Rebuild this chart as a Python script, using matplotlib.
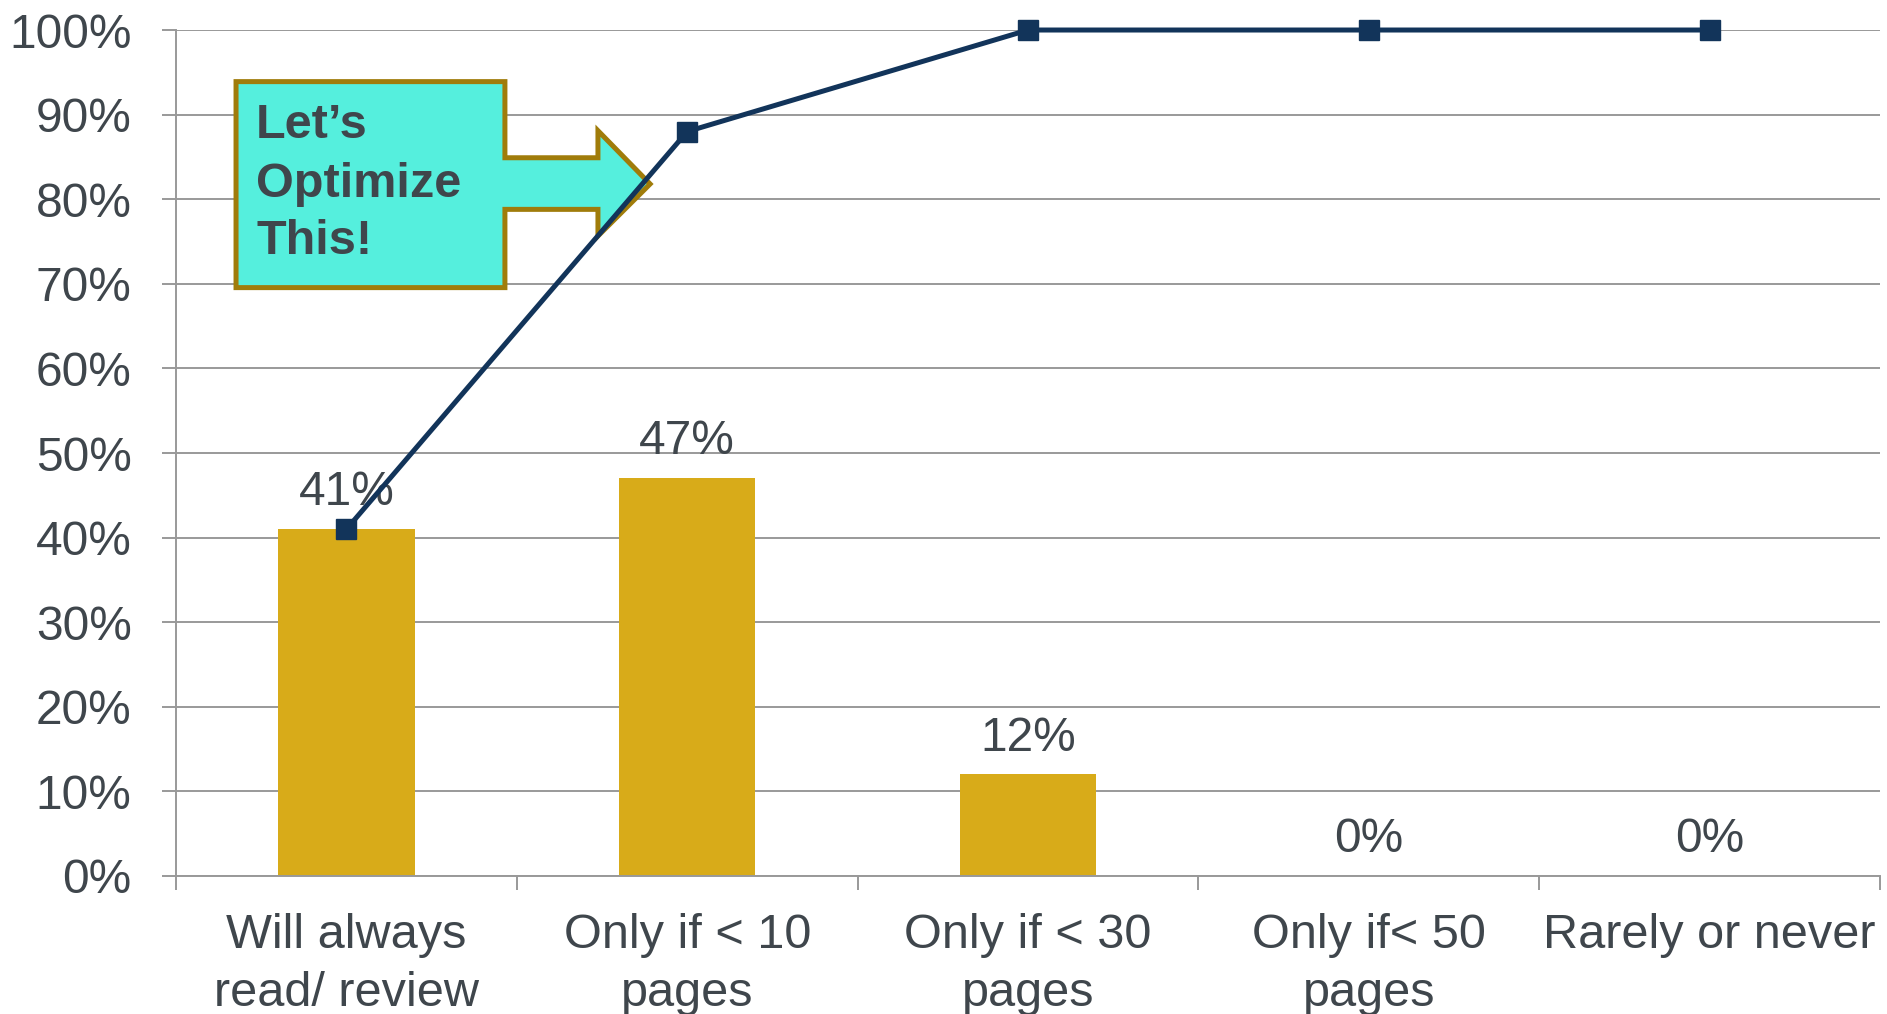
import matplotlib
matplotlib.use("Agg")
import matplotlib.pyplot as plt
from matplotlib.patches import Polygon
from matplotlib.ticker import FixedLocator, PercentFormatter

# Survey responses: share of respondents per reading threshold
categories = ["Will always\nread/ review", "Only if < 10\npages", "Only if < 30\npages",
              "Only if< 50\npages", "Rarely or never"]
share = [41, 47, 12, 0, 0]
cumulative = [41, 88, 100, 100, 100]
y_ticks = [0, 10, 20, 30, 40, 50, 60, 70, 80, 90, 100]
callout_lines = ["Let\u2019s", "Optimize", "This!"]

TEXT = "#3F464C"
GRID = "#999999"
BAR = "#D8AB19"
LINE = "#12345A"
CALLOUT_FILL = "#55EFDD"
CALLOUT_EDGE = "#A07C0A"

plt.rcParams["font.family"] = ["Liberation Sans", "DejaVu Sans"]

fig = plt.figure(figsize=(18.87, 10.14), dpi=100)
ax = fig.add_axes([0.0933, 0.1361, 0.9030, 0.8343])

x = list(range(len(categories)))
ax.bar(x, share, width=0.4, color=BAR, zorder=2)
ax.plot(x, cumulative, color=LINE, lw=3.6, marker="s", markersize=14,
        markerfacecolor=LINE, markeredgecolor=LINE, zorder=5, clip_on=False)

for xi, v in zip(x, share):
    ax.annotate(f"{v}%", (xi, v), xytext=(0, 10), textcoords="offset points",
                ha="center", va="bottom", fontsize=34.5, color=TEXT, zorder=4)

ax.set_xlim(-0.5, len(categories) - 0.5)
ax.set_ylim(0, 100)

# y axis: percent gridlines
ax.yaxis.set_major_locator(FixedLocator(y_ticks))
ax.yaxis.set_major_formatter(PercentFormatter(decimals=0))
ax.grid(axis="y", color=GRID, lw=1.4, zorder=0)
ax.tick_params(axis="y", length=10, width=1.4, color=GRID, pad=22,
               labelsize=34.5, labelcolor=TEXT)

# x axis: ticks at category boundaries, labels at centres
ax.set_xticks([i - 0.5 for i in range(len(categories) + 1)])
ax.set_xticklabels([])
ax.set_xticks(x, minor=True)
ax.set_xticklabels(categories, minor=True, fontsize=35, color=TEXT, linespacing=1.36)
ax.tick_params(axis="x", which="major", length=10, width=1.4, color=GRID)
ax.tick_params(axis="x", which="minor", length=0, pad=27)

for side in ("top", "right"):
    ax.spines[side].set_visible(False)
for side in ("left", "bottom"):
    ax.spines[side].set_color(GRID)
    ax.spines[side].set_linewidth(1.4)

# Callout arrow pointing at the second category
callout = Polygon(
    [(-0.324, 93.9), (0.465, 93.9), (0.465, 84.9), (0.738, 84.9), (0.738, 88.1),
     (0.891, 81.8), (0.738, 75.65), (0.738, 78.8), (0.465, 78.8), (0.465, 69.55),
     (-0.324, 69.55)],
    closed=True, facecolor=CALLOUT_FILL, edgecolor=CALLOUT_EDGE, lw=3.6,
    joinstyle="miter", zorder=3)
ax.add_patch(callout)
for line, yv in zip(callout_lines, [88.75, 81.75, 74.95]):
    ax.text(-0.265, yv, line, fontsize=35, fontweight="bold", color=TEXT,
            ha="left", va="center", zorder=4)

fig.savefig("out.png", dpi=100)
